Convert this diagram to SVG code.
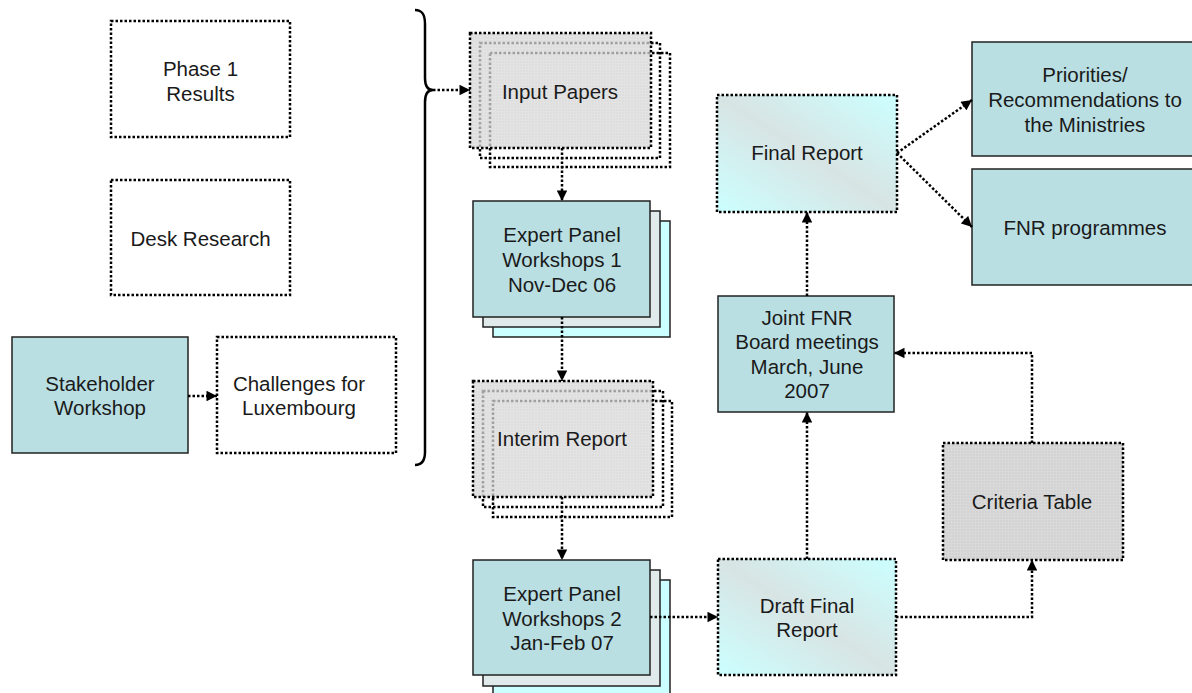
<svg xmlns="http://www.w3.org/2000/svg" width="1192" height="693" viewBox="0 0 1192 693">
<defs>
<style>
text{font-family:"Liberation Sans",Arial,sans-serif;font-size:20.5px;fill:#1a1a1a;text-anchor:middle}
.dotbox{fill:#fff;stroke:#000;stroke-width:2.5;stroke-dasharray:2.5 2}
.back{fill:none;stroke:#000;stroke-width:2.5;stroke-dasharray:2.5 2}
.grey{fill:url(#grid);stroke:#000;stroke-width:2.5;stroke-dasharray:2.5 2}
.greyt{fill:url(#grid);fill-opacity:0.75;stroke:#000;stroke-width:2.5;stroke-dasharray:2.5 2}
.grad{fill:url(#gr);stroke:#000;stroke-width:2.5;stroke-dasharray:2.5 2}
.teal{fill:#b9dfe3;stroke:#222;stroke-width:1.5}
.l2{fill:#e0eaea;stroke:#222;stroke-width:1.5}
.l3{fill:#ccffff;stroke:#222;stroke-width:1.5}
.conn{fill:none;stroke:#000;stroke-width:2.5;stroke-dasharray:2.5 2;marker-end:url(#ah)}
</style>
<pattern id="grid" width="3" height="3" patternUnits="userSpaceOnUse">
<rect width="3" height="3" fill="#d3d3d3"/>
<path d="M0 0.5H3M0.5 0V3" stroke="#d9d9d9" stroke-width="1"/>
</pattern>
<linearGradient id="gr" x1="0" y1="1" x2="1" y2="0">
<stop offset="0" stop-color="#ccffff"/>
<stop offset="0.5" stop-color="#d8e4e4"/>
<stop offset="1" stop-color="#ccffff"/>
</linearGradient>
<marker id="ah" viewBox="0 0 10 10" refX="10" refY="5" markerWidth="4.8" markerHeight="4.2" markerUnits="strokeWidth" orient="auto">
<path d="M0 0L10 5L0 10Z" fill="#000"/>
</marker>
</defs>

<g id="phase1">
<rect class="dotbox" x="111" y="21" width="179" height="116"/>
<text x="200.5" y="76">Phase 1</text>
<text x="200.5" y="100.5">Results</text>
</g>
<g id="desk">
<rect class="dotbox" x="111" y="180" width="179" height="115"/>
<text x="200.5" y="246">Desk Research</text>
</g>
<g id="stakeholder">
<rect class="teal" x="12" y="337" width="176" height="116"/>
<text x="100" y="391">Stakeholder</text>
<text x="100" y="415">Workshop</text>
</g>
<g id="challenges">
<rect class="dotbox" x="217" y="337" width="179" height="116"/>
<text x="299" y="391">Challenges for</text>
<text x="299" y="415">Luxembourg</text>
</g>
<g id="bracket">
<path d="M415 10C422 10 425 14 425 24V78C425 86 428 90 433 90C428 90 425 94 425 102V452C425 461 422 465 415 465" fill="none" stroke="#000" stroke-width="2.5"/>
</g>

<g id="input-papers">
<rect class="back" x="490" y="53" width="180" height="114"/>
<rect class="back" x="480" y="43" width="180" height="115"/>
<rect class="greyt" x="470" y="33" width="181" height="115"/>
<text x="560" y="99">Input Papers</text>
</g>
<g id="expert1">
<rect class="l3" x="493" y="221" width="177" height="116"/>
<rect class="l2" x="483" y="211" width="177" height="116"/>
<rect class="teal" x="473" y="201" width="177" height="116"/>
<text x="562" y="242">Expert Panel</text>
<text x="562" y="267">Workshops 1</text>
<text x="562" y="292">Nov-Dec 06</text>
</g>
<g id="interim">
<rect class="back" x="493" y="401" width="179" height="116"/>
<rect class="back" x="483" y="391" width="180" height="116"/>
<rect class="greyt" x="473" y="381" width="180" height="116"/>
<text x="562" y="446">Interim Report</text>
</g>
<g id="expert2">
<rect class="l3" x="493" y="580" width="177" height="116"/>
<rect class="l2" x="483" y="570" width="177" height="116"/>
<rect class="teal" x="473" y="560" width="177" height="115"/>
<text x="562" y="601">Expert Panel</text>
<text x="562" y="626">Workshops 2</text>
<text x="562" y="650">Jan-Feb 07</text>
</g>
<g id="draft">
<rect class="grad" x="718" y="559" width="178" height="116"/>
<text x="807" y="613">Draft Final</text>
<text x="807" y="637">Report</text>
</g>
<g id="criteria">
<rect class="grey" x="943" y="443" width="180" height="117"/>
<text x="1032" y="509">Criteria Table</text>
</g>
<g id="joint">
<rect class="teal" x="718" y="296" width="176" height="116"/>
<text x="807" y="325">Joint FNR</text>
<text x="807" y="349">Board meetings</text>
<text x="807" y="373.5">March, June</text>
<text x="807" y="398">2007</text>
</g>
<g id="final">
<rect class="grad" x="717" y="95" width="180" height="117"/>
<text x="807" y="160">Final Report</text>
</g>
<g id="priorities">
<rect class="teal" x="972" y="42" width="228" height="114"/>
<text x="1085" y="82">Priorities/</text>
<text x="1085" y="107">Recommendations to</text>
<text x="1085" y="132">the Ministries</text>
</g>
<g id="fnr-programmes">
<rect class="teal" x="972" y="169" width="228" height="116"/>
<text x="1085" y="235">FNR programmes</text>
</g>

<g id="connectors">
<path class="conn" d="M433 90H470"/>
<path class="conn" d="M188 396H217"/>
<path class="conn" d="M562 148V201"/>
<path class="conn" d="M562 317V381"/>
<path class="conn" d="M562 497V560"/>
<path class="conn" d="M650 617H718"/>
<path class="conn" d="M896 617H1032V560"/>
<path class="conn" d="M1032 443V353H894"/>
<path class="conn" d="M807 559V412"/>
<path class="conn" d="M807 296V212"/>
<path class="conn" d="M897 153L972 100"/>
<path class="conn" d="M897 153L972 227"/>
</g>
</svg>
